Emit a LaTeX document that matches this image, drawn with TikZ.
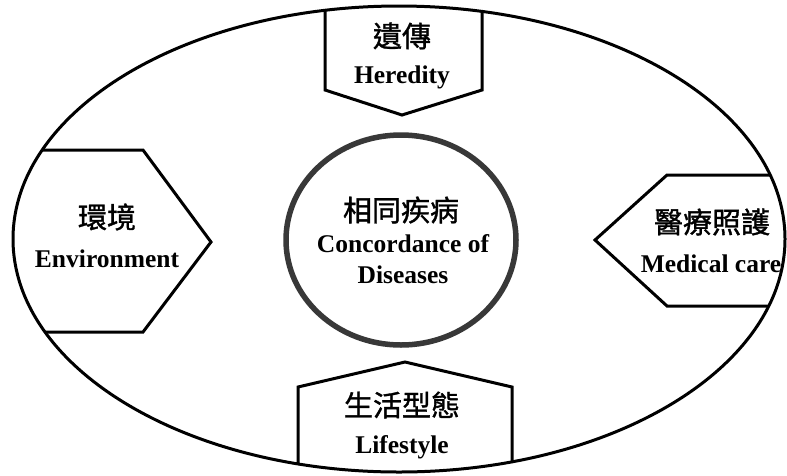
\documentclass[tikz,border=0pt]{standalone}
\usepackage{fontspec}
\setmainfont{Liberation Serif}
\newfontfamily\cjk[FakeBold=1.2]{Noto Sans CJK TC}
\begin{document}
\begin{tikzpicture}[x=1pt,y=-1pt,
  shapeline/.style={line width=3pt, line join=miter},
  cjklabel/.style={font=\cjk\fontsize{29}{32}\selectfont, inner sep=0pt},
  enlabel/.style={font=\bfseries\fontsize{25.5}{28}\selectfont, inner sep=0pt, anchor=base}]
\useasboundingbox (0,0) rectangle (787,475);
\fill[white] (0,0) rectangle (787,475);
\coordinate (C) at (399,239);
\begin{scope}
  \clip (C) ellipse [x radius=386pt, y radius=233pt];
  \draw[shapeline] (325,-20) -- (325,90) -- (402,115) -- (482,90) -- (482,-20);
  \draw[shapeline] (-20,150) -- (143,150) -- (211,242) -- (143,332) -- (-20,332);
  \draw[shapeline] (810,175) -- (667,175) -- (595,240) -- (667,306) -- (810,306);
  \draw[shapeline] (298,500) -- (298,387) -- (405,362) -- (512,387) -- (512,500);
\end{scope}
\draw[line width=3pt] (C) ellipse [x radius=386pt, y radius=233pt];
\draw[line width=5.5pt, draw=black!78] (401,240) ellipse [x radius=115pt, y radius=105pt];
% labels
\node[cjklabel] (hzh) at (402,36) {遺傳};
\node[enlabel] (hen) at (402,83) {Heredity};
\node[cjklabel] (ezh) at (107,217) {環境};
\node[enlabel] (een) at (107,267) {Environment};
\node[cjklabel] (mzh) at (712,222) {醫療照護};
\node[enlabel] (men) at (711,272) {Medical care};
\node[cjklabel] (lzh) at (402,405) {生活型態};
\node[enlabel] (len) at (402,453) {Lifestyle};
\node[cjklabel] (czh) at (401,210) {相同疾病};
\node[enlabel] (cen1) at (403,252) {Concordance of};
\node[enlabel] (cen2) at (403,283) {Diseases};
\end{tikzpicture}
\end{document}
